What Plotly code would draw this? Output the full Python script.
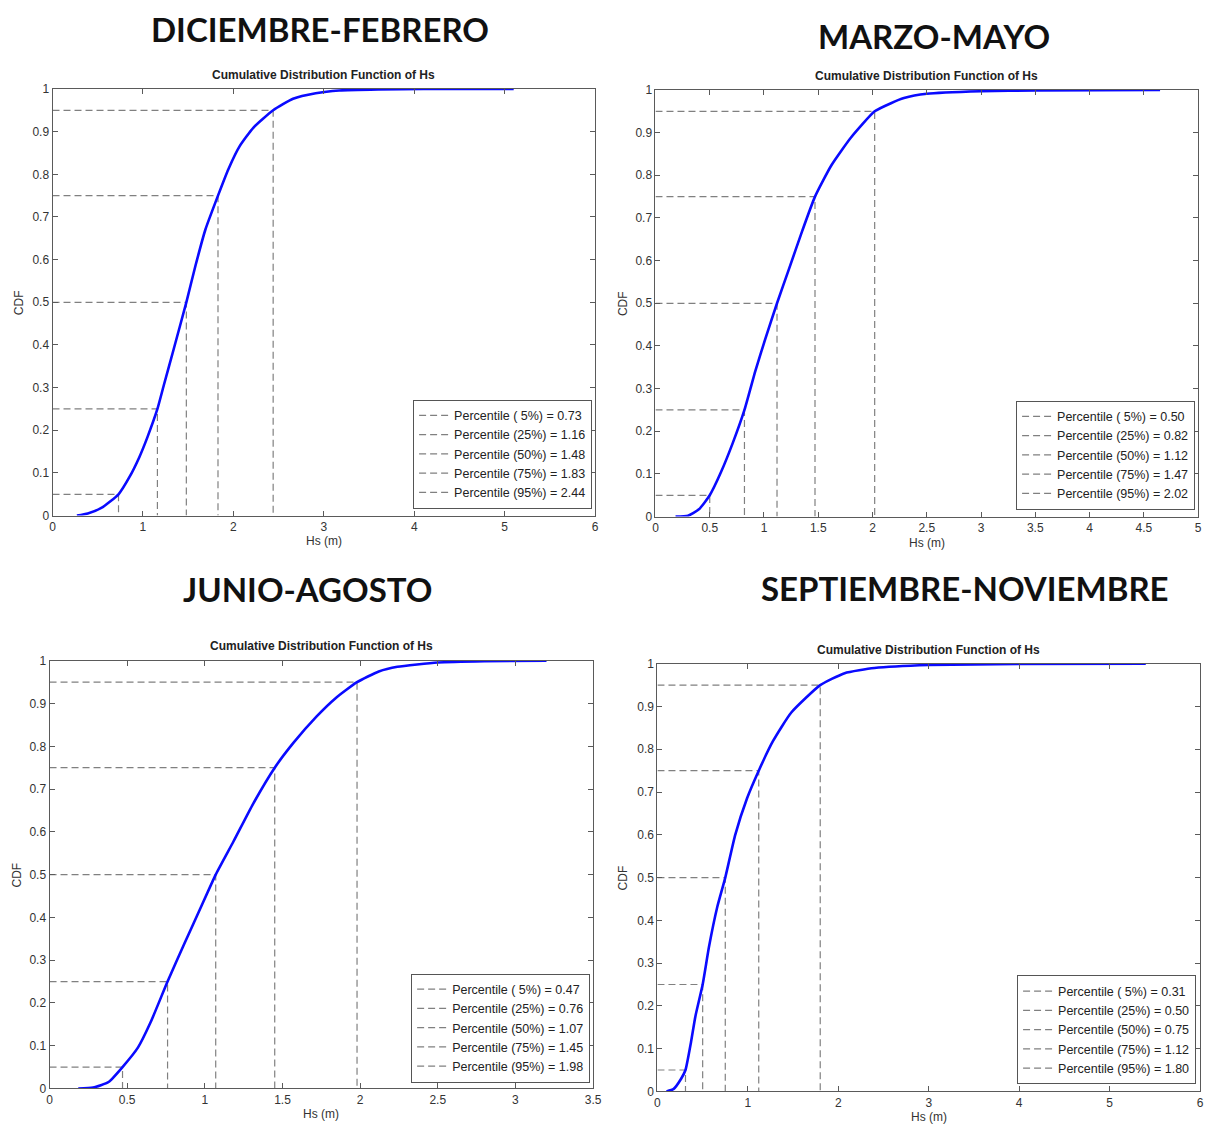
import plotly.graph_objects as go

W, H = 1212, 1130

# ---------------- data ----------------
season_titles = ["DICIEMBRE-FEBRERO", "MARZO-MAYO", "JUNIO-AGOSTO", "SEPTIEMBRE-NOVIEMBRE"]
percent_levels = [0.05, 0.25, 0.50, 0.75, 0.95]
percent_labels = ["( 5%)", "(25%)", "(50%)", "(75%)", "(95%)"]

def_pct = [0.73, 1.16, 1.48, 1.83, 2.44]
mam_pct = [0.50, 0.82, 1.12, 1.47, 2.02]
jja_pct = [0.47, 0.76, 1.07, 1.45, 1.98]
son_pct = [0.31, 0.50, 0.75, 1.12, 1.80]

def_hs = [0.27, 0.39, 0.54, 0.73, 0.85, 0.96, 1.05, 1.16, 1.23, 1.34, 1.48, 1.58, 1.69, 1.83, 1.945, 2.07, 2.22, 2.44, 2.66, 2.91, 3.17, 3.60, 4.10, 5.10]
def_cdf = [0.0, 0.005, 0.018, 0.05, 0.09, 0.137, 0.184, 0.25, 0.305, 0.39, 0.50, 0.585, 0.67, 0.75, 0.812, 0.866, 0.909, 0.95, 0.977, 0.990, 0.9965, 0.999, 0.9998, 1.0]

mam_hs = [0.185, 0.30, 0.40, 0.50, 0.60, 0.71, 0.82, 0.92, 1.01, 1.12, 1.23, 1.35, 1.47, 1.62, 1.80, 2.02, 2.17, 2.29, 2.50, 3.00, 3.50, 4.65]
mam_cdf = [0.0, 0.002, 0.017, 0.05, 0.102, 0.171, 0.25, 0.341, 0.415, 0.50, 0.58, 0.668, 0.75, 0.823, 0.888, 0.95, 0.969, 0.981, 0.991, 0.997, 0.999, 1.0]

jja_hs = [0.185, 0.28, 0.38, 0.47, 0.57, 0.65, 0.76, 0.87, 0.97, 1.07, 1.185, 1.31, 1.45, 1.57, 1.72, 1.84, 1.98, 2.12, 2.24, 2.50, 2.80, 3.20]
jja_cdf = [0.0, 0.002, 0.015, 0.05, 0.096, 0.154, 0.25, 0.34, 0.42, 0.50, 0.578, 0.665, 0.75, 0.808, 0.87, 0.912, 0.95, 0.975, 0.986, 0.996, 0.999, 1.0]

son_hs = [0.10, 0.18, 0.26, 0.31, 0.37, 0.42, 0.50, 0.57, 0.66, 0.75, 0.86, 0.99, 1.12, 1.28, 1.48, 1.80, 2.07, 2.40, 3.00, 4.00, 5.40]
son_cdf = [0.0, 0.006, 0.029, 0.05, 0.114, 0.176, 0.25, 0.338, 0.43, 0.50, 0.60, 0.685, 0.75, 0.82, 0.886, 0.95, 0.978, 0.99, 0.997, 0.9995, 1.0]

x_max = [6, 5, 3.5, 6]
x_dtick = [1, 0.5, 0.5, 1]

# ---------------- layout geometry (pixels) ----------------
boxes = [(50, 598, 83, 515), (659, 1207, 84, 516), (47, 596, 662, 1095), (661, 1209, 665, 1098)]
big_title_pos = [(320, 22), (940, 29), (308, 589), (972, 588)]
sub_title_y = [69, 70, 647, 651]
xlabel_y = [541, 543, 1121, 1124]
ylabel_x = [16, 626, 14, 626]
legend_box = [(407, 595, 423, 508), (1016, 1204, 424, 509), (404, 593, 1004, 1089), (1016, 1205, 1006, 1091)]

def px(x):
    return x / W

def py(y):
    return 1 - y / H

hs_all = [def_hs, mam_hs, jja_hs, son_hs]
cdf_all = [def_cdf, mam_cdf, jja_cdf, son_cdf]
pct_all = [def_pct, mam_pct, jja_pct, son_pct]

fig = go.Figure()
FONT = "Liberation Sans, Arial, sans-serif"
AXC = "#5a5a5a"
annotations = []
layout_axes = {}

for i in range(4):
    n = "" if i == 0 else str(i + 1)
    xa, ya = "x" + n, "y" + n
    lg = "legend" + n
    l, r, t, b = boxes[i]
    for lev, lab, p in zip(percent_levels, percent_labels, pct_all[i]):
        fig.add_trace(go.Scatter(
            x=[0, p, p], y=[lev, lev, 0], mode="lines",
            line=dict(color="#808080", width=1.2, dash="7px,4px"),
            name=f"Percentile {lab} = {p:.2f}",
            xaxis=xa, yaxis=ya, legend=lg, hoverinfo="skip"))
    fig.add_trace(go.Scatter(
        x=hs_all[i], y=cdf_all[i], mode="lines",
        line=dict(color="#0a0aff", width=2.6, shape="spline", smoothing=0.5),
        showlegend=False, xaxis=xa, yaxis=ya))

    axcommon = dict(showgrid=False, zeroline=False, showline=True, mirror="allticks",
                    linecolor=AXC, linewidth=1, ticks="inside", ticklen=5, tickcolor=AXC,
                    tickfont=dict(family=FONT, size=12, color="#333333"))
    layout_axes["xaxis" + n] = dict(axcommon, domain=[px(l), px(r)], range=[0, x_max[i]],
                                    dtick=x_dtick[i], tick0=0, anchor=ya)
    layout_axes["yaxis" + n] = dict(axcommon, domain=[py(b), py(t)], range=[0, 1],
                                    dtick=0.1, tick0=0, anchor=xa)
    lbl, lbr, lbt, lbb = legend_box[i]
    layout_axes[lg] = dict(x=px(lbr), y=py(lbb),
                           xanchor="right", yanchor="bottom",
                           bgcolor="white", bordercolor="#555555", borderwidth=1,
                           font=dict(family=FONT, size=12.5, color="#222222"),
                           tracegroupgap=0, itemwidth=30)
    bx, by = big_title_pos[i]
    annotations.append(dict(text=f"<b>{season_titles[i]}</b>", x=px(bx), y=py(by),
                            xref="paper", yref="paper", showarrow=False,
                            font=dict(family="Lato, sans-serif", size=33, color="#111111"),
                            xanchor="center", yanchor="middle"))
    annotations.append(dict(text="<b>Cumulative Distribution Function of Hs</b>",
                            x=px((l + r) / 2), y=py(sub_title_y[i]), xref="paper", yref="paper",
                            showarrow=False, font=dict(family=FONT, size=12, color="#222222"),
                            xanchor="center", yanchor="middle"))
    annotations.append(dict(text="Hs (m)", x=px((l + r) / 2), y=py(xlabel_y[i]),
                            xref="paper", yref="paper", showarrow=False,
                            font=dict(family=FONT, size=12, color="#333333"),
                            xanchor="center", yanchor="middle"))
    annotations.append(dict(text="CDF", x=px(ylabel_x[i]), y=py((t + b) / 2),
                            xref="paper", yref="paper", showarrow=False, textangle=-90,
                            font=dict(family=FONT, size=12, color="#333333"),
                            xanchor="center", yanchor="middle"))

fig.update_layout(
    width=W, height=H, margin=dict(l=0, r=0, t=0, b=0),
    paper_bgcolor="white", plot_bgcolor="white",
    annotations=annotations, **layout_axes)

fig.write_html("out.html")
